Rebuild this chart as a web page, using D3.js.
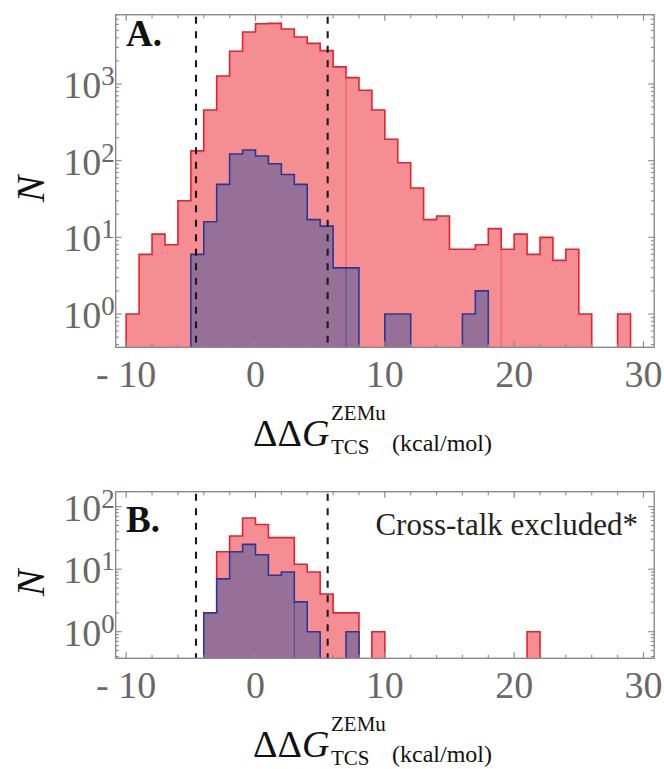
<!DOCTYPE html>
<html><head><meta charset="utf-8">
<script src="https://cdn.jsdelivr.net/npm/d3@7"></script>
<style>body{margin:0;background:#fff}svg{display:block}</style>
</head><body>
<svg id="c" width="664" height="769"></svg>
<script>
// ---- data (histogram counts, unit-width bins) ----
const redAStart = -10;
const redA = [1,6,11,8,30, 134,458,1270,2670,4770, 6110,6180,5210,4100,3390, 2720,1670,1210,828,458, 190,94,44,17,19, 7,7,8,13,7, 11,6,10,5,7, 1,0,0,1];
const blueAStart = -5;
const blueA = [6,16,49,122,138, 115,91,66,49,17, 14,4,4,0,0, 1,1,0,0,0, 0,1,2];
const redBStart = -4;
const redB = [2,19,34,66,52, 32,32,12,9,4, 2,2,0,1, 0,0,0,0,0,0,0,0,0,0,0, 1];
const blueBStart = -4;
const blueB = [2,7,19,25,17,8,9,3,1,0,0,1];
const cutoffs = [-4.6, 5.58];
const xMajor = [-10,0,10,20,30];
const xMajorLabels = ["- 10","0","10","20","30"];
const xMinor = [-8,-6,-4,-2,2,4,6,8,12,14,16,18,22,24,26,28];
const yExpA = [0,1,2,3];
const yExpB = [0,1,2];
const seamsRedA = [7,19];
const seamsBlueA = [7];
const seamsBlueB = [3];

const svg = d3.select("#c");
const FONT = "'Liberation Serif','Times New Roman',serif";
const RED_FILL = "#f58e92", RED_LINE = "#ec1f2a", BLUE_FILL = "#967096", BLUE_LINE = "#28389a";
const FRAME = "#8a8a8a", TICKTXT = "#686868";

const x = d3.scaleLinear().domain([-10.81, 30.83]).range([115.7, 654.2]);

function panel(opts) {
  const {id, top, bottom, yMinExp, yMaxExp, red, redStart, blue, blueStart, redSeams, blueSeams, exps, letter} = opts;
  const y = d3.scaleLog().domain([Math.pow(10, yMinExp), Math.pow(10, yMaxExp)]).range([bottom, top]);
  const g = svg.append("g");
  g.append("clipPath").attr("id", "clip" + id).append("rect")
    .attr("x", x.range()[0]).attr("y", top).attr("width", x.range()[1] - x.range()[0]).attr("height", bottom - top);
  const pg = g.append("g").attr("clip-path", `url(#clip${id})`);
  const yb = bottom + 10;
  function histPath(start, vals) {
    let d = "";
    for (let i = 0; i < vals.length; i++) {
      const v = vals[i];
      if (!(v > 0)) continue;
      const x0 = x(start + i), x1 = x(start + i + 1), yy = y(v);
      const prev = i > 0 && vals[i - 1] > 0;
      if (!prev) d += `M${x0},${yb}L${x0},${yy}`; else d += `L${x0},${yy}`;
      d += `L${x1},${yy}`;
      const next = i < vals.length - 1 && vals[i + 1] > 0;
      if (!next) d += `L${x1},${yb}Z`;
    }
    return d;
  }
  function seam(start, vals, edge, color) {
    const i = edge - start;
    const v = Math.min(vals[i - 1], vals[i]);
    pg.append("line").attr("x1", x(edge)).attr("x2", x(edge)).attr("y1", y(v)).attr("y2", bottom)
      .attr("stroke", color).attr("stroke-width", 1);
  }
  pg.append("path").attr("d", histPath(redStart, red)).attr("fill", RED_FILL).attr("stroke", "none");
  redSeams.forEach(e => seam(redStart, red, e, "#f0585e"));
  pg.append("path").attr("d", histPath(redStart, red)).attr("fill", "none").attr("stroke", RED_LINE).attr("stroke-width", 1.6).attr("stroke-linejoin", "miter");
  pg.append("path").attr("d", histPath(blueStart, blue)).attr("fill", BLUE_FILL).attr("stroke", "none");
  blueSeams.forEach(e => seam(blueStart, blue, e, "#4a4a96"));
  pg.append("path").attr("d", histPath(blueStart, blue)).attr("fill", "none").attr("stroke", BLUE_LINE).attr("stroke-width", 1.6);
  cutoffs.forEach(c => {
    pg.append("line").attr("x1", x(c)).attr("x2", x(c)).attr("y1", top + 2).attr("y2", bottom)
      .attr("stroke", "#1a1a1a").attr("stroke-width", 2.1).attr("stroke-dasharray", "7,7.5");
  });
  // frame
  g.append("rect").attr("x", x.range()[0]).attr("y", top).attr("width", x.range()[1] - x.range()[0]).attr("height", bottom - top)
    .attr("fill", "none").attr("stroke", FRAME).attr("stroke-width", 1.4);
  // x ticks (bottom and top, inward)
  const L = x.range()[0], R = x.range()[1];
  xMajor.forEach((t, i) => {
    [[bottom, -6], [top, 6]].forEach(([yy, len]) => {
      g.append("line").attr("x1", x(t)).attr("x2", x(t)).attr("y1", yy).attr("y2", yy + len).attr("stroke", FRAME).attr("stroke-width", 1.2);
    });
    g.append("text").attr("x", x(t)).attr("y", bottom + 40).attr("text-anchor", "middle")
      .attr("font-family", FONT).attr("font-size", 38).attr("fill", TICKTXT).text(xMajorLabels[i]);
  });
  xMinor.forEach(t => {
    [[bottom, -3.5], [top, 3.5]].forEach(([yy, len]) => {
      g.append("line").attr("x1", x(t)).attr("x2", x(t)).attr("y1", yy).attr("y2", yy + len).attr("stroke", FRAME).attr("stroke-width", 1.1);
    });
  });
  // y ticks
  const [d0, d1] = y.domain();
  for (let e = Math.floor(Math.log10(d0)); e <= Math.ceil(Math.log10(d1)); e++) {
    for (let m = 1; m <= 9; m++) {
      const v = m * Math.pow(10, e);
      if (v < d0 || v > d1) continue;
      const len = m === 1 ? 6 : 3.2;
      g.append("line").attr("x1", L).attr("x2", L + len).attr("y1", y(v)).attr("y2", y(v)).attr("stroke", FRAME).attr("stroke-width", 1.1);
      g.append("line").attr("x1", R).attr("x2", R - len).attr("y1", y(v)).attr("y2", y(v)).attr("stroke", FRAME).attr("stroke-width", 1.1);
    }
  }
  exps.forEach(e => {
    const t = g.append("text").attr("x", L - 1).attr("y", y(Math.pow(10, e)) + 14).attr("text-anchor", "end")
      .attr("font-family", FONT).attr("font-size", 38).attr("fill", TICKTXT);
    t.append("tspan").text("10");
    t.append("tspan").attr("font-size", 27).attr("dy", -13).text(String(e));
  });
  // panel letter
  g.append("text").attr("x", 126).attr("y", top + (letter === "A." ? 31.5 : 40.5)).attr("font-family", FONT)
    .attr("font-weight", "bold").attr("font-size", 37).attr("fill", "#111").text(letter);
  // N label
  g.append("text").attr("transform", `translate(44,${(top + bottom) / 2 + 8}) rotate(-90)`).attr("text-anchor", "middle")
    .attr("font-family", FONT).attr("font-style", "italic").attr("font-size", 40).attr("fill", "#111").text("N");
  // x axis label
  const base = bottom + 99;
  const xl = g.append("text").attr("x", 253).attr("y", base).attr("font-family", FONT).attr("font-size", 38).attr("fill", "#111");
  xl.append("tspan").text("ΔΔ");
  xl.append("tspan").attr("font-style", "italic").text("G");
  const gEnd = 253 + 77;
  g.append("text").attr("x", gEnd + 1).attr("y", base - 26).attr("font-family", FONT).attr("font-size", 21).attr("fill", "#111").text("ZEMu");
  g.append("text").attr("x", gEnd + 1).attr("y", base + 8).attr("font-family", FONT).attr("font-size", 21).attr("fill", "#111").text("TCS");
  g.append("text").attr("x", 392).attr("y", base + 5).attr("font-family", FONT).attr("font-size", 24).attr("fill", "#111").text("(kcal/mol)");
  return {g, y};
}

panel({id: "A", top: 14.7, bottom: 347.3, yMinExp: (314 - 347.3) / 76.67, yMaxExp: (314 - 14.7) / 76.67,
  red: redA, redStart: redAStart, blue: blueA, blueStart: blueAStart, redSeams: seamsRedA, blueSeams: seamsBlueA, exps: yExpA, letter: "A."});
const pB = panel({id: "B", top: 491.7, bottom: 658.3, yMinExp: (631.7 - 658.3) / 62.5, yMaxExp: (631.7 - 491.7) / 62.5,
  red: redB, redStart: redBStart, blue: blueB, blueStart: blueBStart, redSeams: [], blueSeams: seamsBlueB, exps: yExpB, letter: "B."});
pB.g.append("text").attr("x", 638).attr("y", 535).attr("text-anchor", "end").attr("font-family", FONT)
  .attr("font-size", 31).attr("fill", "#222").text("Cross-talk excluded*");
</script>
</body></html>
